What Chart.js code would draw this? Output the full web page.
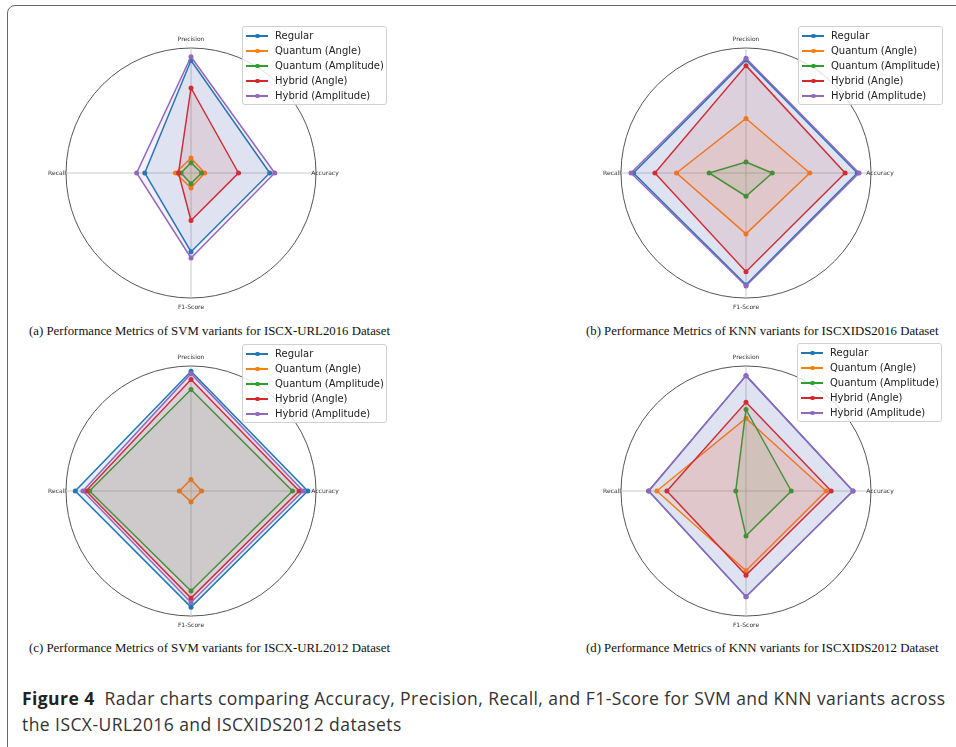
<!DOCTYPE html>
<html>
<head>
<meta charset="utf-8">
<script src="https://cdn.jsdelivr.net/npm/chart.js@4/dist/chart.umd.min.js"></script>
<style>
  html, body { margin: 0; padding: 0; background: #fff; overflow: hidden; }
  body { width: 956px; height: 747px; position: relative; }
  .frame { position: absolute; left: 7px; top: 5px; width: 1000px; height: 750px;
           border: 1.5px solid #666; border-radius: 8px; }
  canvas { position: absolute; }
  .legend { position: absolute; width: 143px; height: 77px; border: 1px solid #d0d0d0;
            border-radius: 3px; background: rgba(255,255,255,0.8); z-index: 2;
            font: 10px "DejaVu Sans", sans-serif; color: #222; }
  .legend .row { position: absolute; left: 0; height: 15px; line-height: 15px; white-space: nowrap; }
  .legend .line { position: absolute; left: 3px; top: 7px; width: 22px; height: 1.5px; }
  .legend .dot { position: absolute; left: 12px; top: 5.5px; width: 4.5px; height: 4.5px; border-radius: 50%; }
  .legend .txt { position: absolute; left: 32px; top: 0; }
  .sub { position: absolute; font: 12.8px "Liberation Serif", serif; color: #111; white-space: nowrap; line-height: 14px; }
  .fig { position: absolute; left: 22px; top: 685px; font: 17.5px "Open Sans", sans-serif; color: #333;
         letter-spacing: 0.43px; line-height: 26px; white-space: nowrap; }
  .fig b { color: #222; font-weight: 700; }
</style>
</head>
<body>
<div class="frame"></div>

<canvas id="chartA" width="300" height="300" style="left:41px;top:23px"></canvas>
<canvas id="chartB" width="300" height="300" style="left:596px;top:23px"></canvas>
<canvas id="chartC" width="300" height="300" style="left:41px;top:341px"></canvas>
<canvas id="chartD" width="300" height="300" style="left:596px;top:341px"></canvas>

<div class="legend" id="legA" style="left:242px;top:26px"></div>
<div class="legend" id="legB" style="left:798px;top:26px"></div>
<div class="legend" id="legC" style="left:242px;top:344px"></div>
<div class="legend" id="legD" style="left:797px;top:343px"></div>

<div class="sub" style="left:29px;top:324px">(a) Performance Metrics of SVM variants for ISCX-URL2016 Dataset</div>
<div class="sub" style="left:586px;top:324px">(b) Performance Metrics of KNN variants for ISCXIDS2016 Dataset</div>
<div class="sub" style="left:29px;top:641px">(c) Performance Metrics of SVM variants for ISCX-URL2012 Dataset</div>
<div class="sub" style="left:586px;top:641px">(d) Performance Metrics of KNN variants for ISCXIDS2012 Dataset</div>

<div class="fig"><b>Figure 4</b>&nbsp; Radar charts comparing Accuracy, Precision, Recall, and F1-Score for SVM and KNN variants across<br>the ISCX-URL2016 and ISCXIDS2012 datasets</div>

<script>
// axis order clockwise from the top, like the picture
const metrics = ['Precision', 'Accuracy', 'F1-Score', 'Recall'];
const variants = ['Regular', 'Quantum (Angle)', 'Quantum (Amplitude)', 'Hybrid (Angle)', 'Hybrid (Amplitude)'];

// one row per variant, values in metrics order
const svmUrl2016 = [
    [0.90, 0.63, 0.63, 0.37],
    [0.12, 0.11, 0.12, 0.125],
    [0.083, 0.085, 0.085, 0.08],
    [0.68, 0.38, 0.38, 0.10],
    [0.93, 0.67, 0.68, 0.435]
];
const knnIds2016 = [
    [0.905, 0.89, 0.895, 0.90],
    [0.436, 0.51, 0.487, 0.556],
    [0.088, 0.21, 0.186, 0.295],
    [0.859, 0.793, 0.79, 0.729],
    [0.918, 0.904, 0.904, 0.92]
];
const svmUrl2012 = [
    [0.958, 0.934, 0.929, 0.926],
    [0.093, 0.085, 0.087, 0.093],
    [0.812, 0.812, 0.80, 0.812],
    [0.892, 0.865, 0.857, 0.839],
    [0.939, 0.897, 0.892, 0.865]
];
const knnIds2012 = [
    [0.923, 0.856, 0.846, 0.779],
    [0.582, 0.641, 0.638, 0.713],
    [0.652, 0.362, 0.359, 0.082],
    [0.71, 0.681, 0.673, 0.633],
    [0.923, 0.856, 0.846, 0.779]
];

const colors = ['#1f77b4', '#ff7f0e', '#2ca02c', '#d62728', '#9467bd'];

function alpha(hex, a) {
    const n = parseInt(hex.slice(1), 16);
    return `rgba(${n >> 16}, ${(n >> 8) & 255}, ${n & 255}, ${a})`;
}

// metric names drawn centred just outside the circle (matplotlib style)
const axisLabels = {
    id: 'axisLabels',
    afterDraw(chart) {
        const scale = chart.scales.r;
        const ctx = chart.ctx;
        ctx.save();
        ctx.font = '6px "DejaVu Sans"';
        ctx.fillStyle = '#333';
        ctx.textAlign = 'center';
        ctx.textBaseline = 'middle';
        chart.data.labels.forEach((label, i) => {
            const p = scale.getPointPosition(i, scale.drawingArea + 9);
            ctx.fillText(label, p.x, p.y);
        });
        ctx.restore();
    }
};

function makeRadar(id, rows) {
    new Chart(document.getElementById(id), {
        type: 'radar',
        data: {
            labels: metrics,
            datasets: rows.map((vals, i) => ({
                label: variants[i],
                data: vals,
                borderColor: colors[i],
                backgroundColor: alpha(colors[i], 0.1),
                pointBackgroundColor: colors[i],
                pointBorderWidth: 0,
                pointRadius: 2.5,
                borderWidth: 1.5,
                fill: true,
                order: rows.length - 1 - i
            }))
        },
        options: {
            responsive: false,
            animation: false,
            layout: { padding: 25 },
            plugins: { legend: { display: false }, tooltip: { enabled: false } },
            scales: {
                r: {
                    min: 0,
                    max: 1,
                    ticks: { display: false, stepSize: 1 },
                    grid: { circular: true, color: '#555', lineWidth: 1 },
                    angleLines: { color: '#c8c8c8', lineWidth: 1 },
                    pointLabels: { display: false }
                }
            }
        },
        plugins: [axisLabels]
    });
}

function makeLegend(id) {
    const box = document.getElementById(id);
    variants.forEach((name, i) => {
        const row = document.createElement('div');
        row.className = 'row';
        row.style.top = (1 + 15 * i) + 'px';
        row.innerHTML = `<span class="line" style="background:${colors[i]}"></span>` +
            `<span class="dot" style="background:${colors[i]}"></span>` +
            `<span class="txt">${name}</span>`;
        box.appendChild(row);
    });
}

makeRadar('chartA', svmUrl2016);
makeRadar('chartB', knnIds2016);
makeRadar('chartC', svmUrl2012);
makeRadar('chartD', knnIds2012);
['legA', 'legB', 'legC', 'legD'].forEach(makeLegend);
</script>
</body>
</html>
